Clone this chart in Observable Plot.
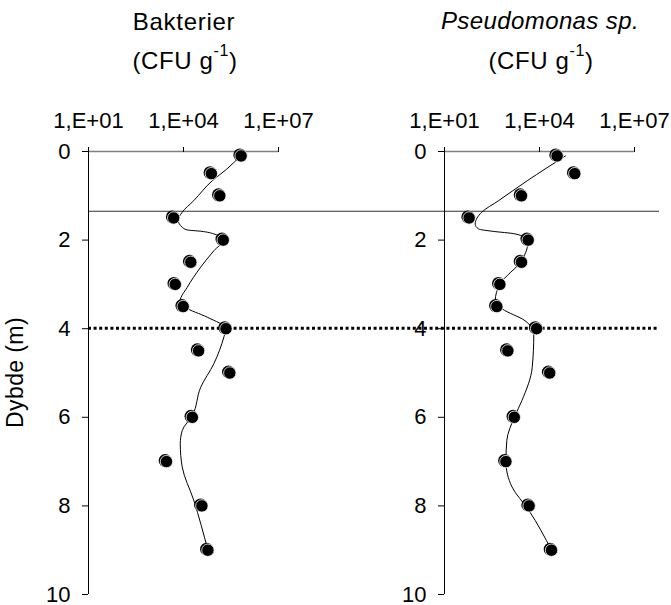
<!DOCTYPE html>
<html>
<head>
<meta charset="utf-8">
<script src="https://cdn.jsdelivr.net/npm/d3@7"></script>
<script src="https://cdn.jsdelivr.net/npm/@observablehq/plot@0.6"></script>
<style>
  body { margin: 0; background: #fff; }
  #chart { width: 671px; height: 605px; }
</style>
</head>
<body>
<div id="chart"></div>
<script>
// ---- data ----
const panels = ["Bakterier", "Pseudomonas sp."];
const depths = [0.1, 0.5, 1, 1.5, 2, 2.5, 3, 3.5, 4, 4.5, 5, 6, 7, 8, 9];
const bakterier   = [6.6e5, 7.6e4, 1.4e5, 4.9e3, 1.8e5, 1.7e4, 5.5e3, 9.8e3, 2.2e5, 3.0e4, 2.9e5, 1.9e4, 2.9e3, 3.8e4, 5.9e4];
const pseudomonas = [3.6e4, 1.3e5, 2.7e3, 60, 4.4e3, 2.7e3, 560, 450, 8.1e3, 1.0e3, 2.1e4, 1.6e3, 870, 4.7e3, 2.4e4];

// smoothed trend curves
const curveDepthsB = [0.1, 0.4, 0.66, 1.11, 1.37, 1.55, 1.71, 1.77, 1.8, 1.86, 2.0, 2.24, 2.61, 3.07, 3.37, 3.52, 3.74, 4.0, 4.18, 4.79, 5.32, 5.96, 6.3, 6.6, 7.12, 7.87, 9.0];
const curveB      = [6.3e5, 2.3e5, 8.1e4, 2.1e4, 9.1e3, 6.8e3, 9.1e3, 1.3e4, 3.5e4, 9.1e4, 1.8e5, 9.1e4, 3.5e4, 1.3e4, 7.9e3, 1.15e4, 5.6e4, 2.2e5, 1.9e5, 9.1e4, 3.5e4, 1.9e4, 9.1e3, 7.9e3, 9.1e3, 2.1e4, 5.9e4];
const curveDepthsP = [0.1, 0.66, 1.11, 1.37, 1.64, 1.75, 1.8, 1.86, 2.0, 2.45, 3.0, 3.37, 3.55, 3.82, 4.12, 4.87, 5.62, 6.0, 6.52, 7.0, 7.57, 8.1, 9.0];
const curveP       = [6.6e4, 4.1e3, 510, 150, 93, 120, 320, 1.7e3, 4.4e3, 2.8e3, 560, 400, 660, 3.5e3, 6.6e3, 5.9e3, 2.8e3, 1.6e3, 930, 870, 1.35e3, 4.6e3, 2.4e4];

const xTicks = [1e1, 1e4, 1e7];
const yTicks = [0, 2, 4, 6, 8, 10];
const solidLineDepths = [1.36];
const dottedLineDepths = [4];
const yLabel = "Dybde (m)";
const unitText = ["(CFU g", "-1", ")"];

// ---- tables ----
const points = [
  ...depths.map((d, i) => ({panel: panels[0], depth: d, value: bakterier[i]})),
  ...depths.map((d, i) => ({panel: panels[1], depth: d, value: pseudomonas[i]}))
];
const curves = [
  ...curveDepthsB.map((d, i) => ({panel: panels[0], depth: d, value: curveB[i]})),
  ...curveDepthsP.map((d, i) => ({panel: panels[1], depth: d, value: curveP[i]}))
];

const fmt = v => "1,E+" + String(Math.round(Math.log10(v))).padStart(2, "0");
const FONT = "'Liberation Sans', Arial, sans-serif";

const plot = Plot.plot({
  width: 671,
  height: 605,
  marginTop: 151,
  marginBottom: 11,
  marginLeft: 88,
  marginRight: 37,
  style: {fontFamily: FONT, fontSize: "22px", background: "white", color: "black", overflow: "visible"},
  fx: {domain: panels, paddingInner: 0.4663, paddingOuter: 0, axis: null, label: null},
  x: {type: "log", domain: [10, 1e7], axis: null},
  y: {domain: [0, 10], reverse: true, axis: null},
  marks: [
    Plot.ruleY([0], {stroke: "#808080", strokeWidth: 1.5}),
    Plot.ruleX([10], {stroke: "black", strokeWidth: 1}),
    Plot.axisX({anchor: "top", ticks: xTicks, tickFormat: fmt, tickSize: 5, tickPadding: 19, label: null, fontSize: 22, stroke: "black"}),
    Plot.axisY({anchor: "left", ticks: yTicks, tickSize: 6, tickPadding: 12, label: null, fontSize: 22, facetAnchor: null}),
    Plot.line(curves, {fx: "panel", x: "value", y: "depth", z: "panel", curve: "monotone-y", stroke: "black", strokeWidth: 1}),
    Plot.dot(points, {fx: "panel", x: "value", y: "depth", r: 6.5, fill: "black", dx: -1.3, dy: -1}),
    Plot.dot(points, {fx: "panel", x: "value", y: "depth", r: 6.2, fill: "black", stroke: "white", strokeWidth: 0.8})
  ]
});

document.getElementById("chart").appendChild(plot);

// ---- annotations positioned through Plot's scales ----
const fxs = plot.scale("fx");
const xs = plot.scale("x");
const ys = plot.scale("y");
const svg = d3.select(plot);
const bw = fxs.bandwidth;
const x0 = fxs.apply(panels[0]);
const xEnd = 671 - 12;

const refs = svg.insert("g", ":first-child");
solidLineDepths.forEach(d => {
  refs.append("line").attr("x1", x0).attr("x2", xEnd)
    .attr("y1", ys.apply(d)).attr("y2", ys.apply(d))
    .attr("stroke", "#333").attr("stroke-width", 1.2);
});
dottedLineDepths.forEach(d => {
  refs.append("line").attr("x1", x0).attr("x2", xEnd)
    .attr("y1", ys.apply(d)).attr("y2", ys.apply(d))
    .attr("stroke", "black").attr("stroke-width", 3).attr("stroke-dasharray", "3,2.6");
});

const titles = svg.append("g").attr("font-family", FONT).attr("fill", "black");
panels.forEach((p, i) => {
  const cx = fxs.apply(p) + bw / 2;
  titles.append("text").attr("x", cx + 1).attr("y", i === 0 ? 30 : 29)
    .attr("text-anchor", "middle").attr("font-size", 24)
    .attr("letter-spacing", i === 0 ? 0.7 : 0.4)
    .attr("font-style", i === 1 ? "italic" : "normal")
    .text(p);
  const t = titles.append("text").attr("x", cx + 2).attr("y", 69)
    .attr("text-anchor", "middle").attr("font-size", 24).attr("letter-spacing", 0.6);
  t.append("tspan").text(unitText[0]);
  t.append("tspan").attr("font-size", 16).attr("dy", -13).text(unitText[1]);
  t.append("tspan").attr("dy", 13).text(unitText[2]);
});

titles.append("text")
  .attr("transform", `translate(23,${ys.apply(5)}) rotate(-90)`)
  .attr("text-anchor", "middle").attr("font-size", 23).attr("letter-spacing", 0.4)
  .text(yLabel);
</script>
</body>
</html>
